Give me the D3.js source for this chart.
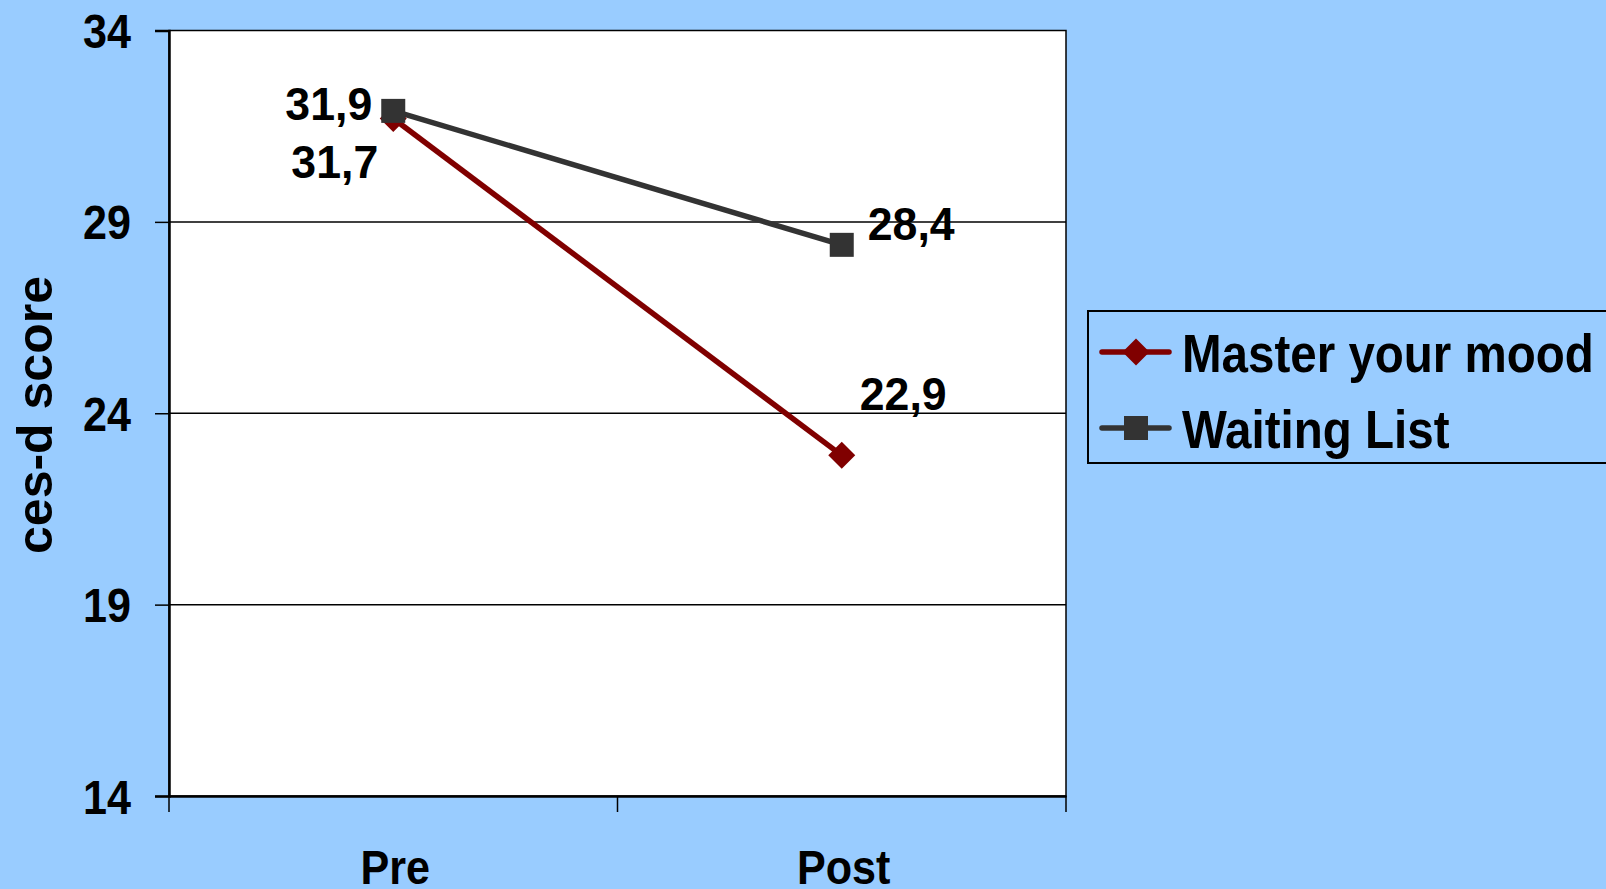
<!DOCTYPE html>
<html>
<head>
<meta charset="utf-8">
<script src="https://cdn.jsdelivr.net/npm/d3@7"></script>
<style>
  html, body { margin: 0; padding: 0; background: #99CCFF; }
  svg { display: block; }
  text { font-family: "Liberation Sans", Arial, sans-serif; font-weight: bold; fill: #000; }
</style>
</head>
<body>
<svg id="chart" width="1606" height="889"></svg>
<script>
// ---- data ----
const categories = ["Pre", "Post"];
const seriesNames = ["Master your mood", "Waiting List"];
const masterValues = [31.7, 22.9];
const waitingValues = [31.9, 28.4];
const masterLabels = ["31,7", "22,9"];
const waitingLabels = ["31,9", "28,4"];
const yTicks = [14, 19, 24, 29, 34];
const yTitle = "ces-d score";

// ---- layout ----
const W = 1606, H = 889;
const plot = { left: 169, right: 1066, top: 30.5, bottom: 796 };
const svg = d3.select("#chart");

svg.append("rect").attr("x", 0).attr("y", 0).attr("width", W).attr("height", H).attr("fill", "#99CCFF");

const x = d3.scalePoint().domain(categories).range([plot.left, plot.right]).padding(0.5);
const xBand = d3.scaleBand().domain(categories).range([plot.left, plot.right]);
const y = d3.scaleLinear().domain([14, 34]).range([plot.bottom, plot.top]);

// plot background
svg.append("rect")
  .attr("x", plot.left).attr("y", plot.top)
  .attr("width", plot.right - plot.left).attr("height", plot.bottom - plot.top)
  .attr("fill", "#fff").attr("stroke", "#000").attr("stroke-width", 1.5);

// gridlines
svg.append("g").selectAll("line").data(yTicks.filter(d => d > 14 && d < 34)).join("line")
  .attr("x1", plot.left).attr("x2", plot.right)
  .attr("y1", d => y(d)).attr("y2", d => y(d))
  .attr("stroke", "#000").attr("stroke-width", 1.5);

// y axis
const yAxis = d3.axisLeft(y).tickValues(yTicks).tickSize(14).tickPadding(0).tickFormat(d3.format("d"));
const gy = svg.append("g").attr("transform", `translate(${plot.left},0)`).call(yAxis);
gy.select(".domain").attr("stroke", "#000").attr("stroke-width", 2.5);
gy.selectAll(".tick line").attr("stroke", "#000").attr("stroke-width", 1.5);
gy.selectAll(".tick text")
  .attr("x", 0).attr("dy", null)
  .attr("transform", "translate(-38,17) scale(0.88,1)")
  .style("font-size", "49px").style("font-family", "'Liberation Sans', Arial, sans-serif")
  .style("font-weight", "bold").attr("fill", "#000");

// x axis
const xAxis = d3.axisBottom(xBand).tickSize(0).tickFormat("");
const gx = svg.append("g").attr("transform", `translate(0,${plot.bottom})`).call(xAxis);
gx.select(".domain").attr("stroke", "#000").attr("stroke-width", 2.5);
// category boundary ticks
const boundaries = [plot.left, ...categories.slice(1).map(c => xBand(c)), plot.right];
svg.append("g").selectAll("line").data(boundaries).join("line")
  .attr("x1", d => d).attr("x2", d => d)
  .attr("y1", plot.bottom).attr("y2", plot.bottom + 16)
  .attr("stroke", "#000").attr("stroke-width", 1.5);
svg.append("g").selectAll("text").data(categories).join("text")
  .attr("text-anchor", "middle")
  .attr("transform", d => `translate(${x(d) + 2},884) scale(0.88,1)`)
  .style("font-size", "49px")
  .text(d => d);

// y title
svg.append("text")
  .attr("text-anchor", "middle")
  .attr("transform", `translate(52,415) rotate(-90)`)
  .style("font-size", "50px")
  .text(yTitle);

// lines
const line = d3.line().x((d, i) => x(categories[i])).y(d => y(d));
svg.append("path").datum(masterValues).attr("d", line)
  .attr("fill", "none").attr("stroke", "#800000").attr("stroke-width", 5.5);
svg.append("path").datum(waitingValues).attr("d", line)
  .attr("fill", "none").attr("stroke", "#333333").attr("stroke-width", 5.5);

// markers
const diamond = (cx, cy, r) => `M${cx},${cy - r}L${cx + r},${cy}L${cx},${cy + r}L${cx - r},${cy}Z`;
svg.append("g").selectAll("path").data(masterValues).join("path")
  .attr("d", (d, i) => diamond(x(categories[i]), y(d), 13.5))
  .attr("fill", "#800000");
svg.append("g").selectAll("rect").data(waitingValues).join("rect")
  .attr("x", (d, i) => x(categories[i]) - 12).attr("y", d => y(d) - 12)
  .attr("width", 24).attr("height", 24)
  .attr("fill", "#333333");

// data labels
const labelStyle = sel => sel.style("font-size", "47px");
svg.append("text").call(labelStyle).attr("text-anchor", "end")
  .attr("transform", `translate(${x(categories[0]) - 21},${y(waitingValues[0]) + 9}) scale(0.95,1)`)
  .text(waitingLabels[0]);
svg.append("text").call(labelStyle).attr("text-anchor", "end")
  .attr("transform", `translate(${x(categories[0]) - 15},${y(masterValues[0]) + 59}) scale(0.95,1)`)
  .text(masterLabels[0]);
svg.append("text").call(labelStyle).attr("text-anchor", "start")
  .attr("transform", `translate(${x(categories[1]) + 26},${y(waitingValues[1]) - 5}) scale(0.95,1)`)
  .text(waitingLabels[1]);
svg.append("text").call(labelStyle).attr("text-anchor", "start")
  .attr("transform", `translate(${x(categories[1]) + 18},${y(masterValues[1]) - 45}) scale(0.95,1)`)
  .text(masterLabels[1]);

// legend
const lg = svg.append("g");
lg.append("rect").attr("x", 1088).attr("y", 311).attr("width", 540).attr("height", 152)
  .attr("fill", "#99CCFF").attr("stroke", "#000").attr("stroke-width", 2);
const legendRows = [
  { name: seriesNames[0], color: "#800000", marker: "diamond", y: 352 },
  { name: seriesNames[1], color: "#333333", marker: "square", y: 428 }
];
legendRows.forEach(r => {
  lg.append("line").attr("x1", 1102).attr("x2", 1169).attr("y1", r.y).attr("y2", r.y)
    .attr("stroke", r.color).attr("stroke-width", 5.5).attr("stroke-linecap", "round");
  if (r.marker === "diamond") {
    lg.append("path").attr("d", diamond(1136, r.y, 13.5)).attr("fill", r.color);
  } else {
    lg.append("rect").attr("x", 1124).attr("y", r.y - 12).attr("width", 24).attr("height", 24).attr("fill", r.color);
  }
  lg.append("text")
    .attr("transform", `translate(1182,${r.y + 20}) scale(0.88,1)`)
    .style("font-size", "54px")
    .text(r.name);
});
</script>
</body>
</html>
